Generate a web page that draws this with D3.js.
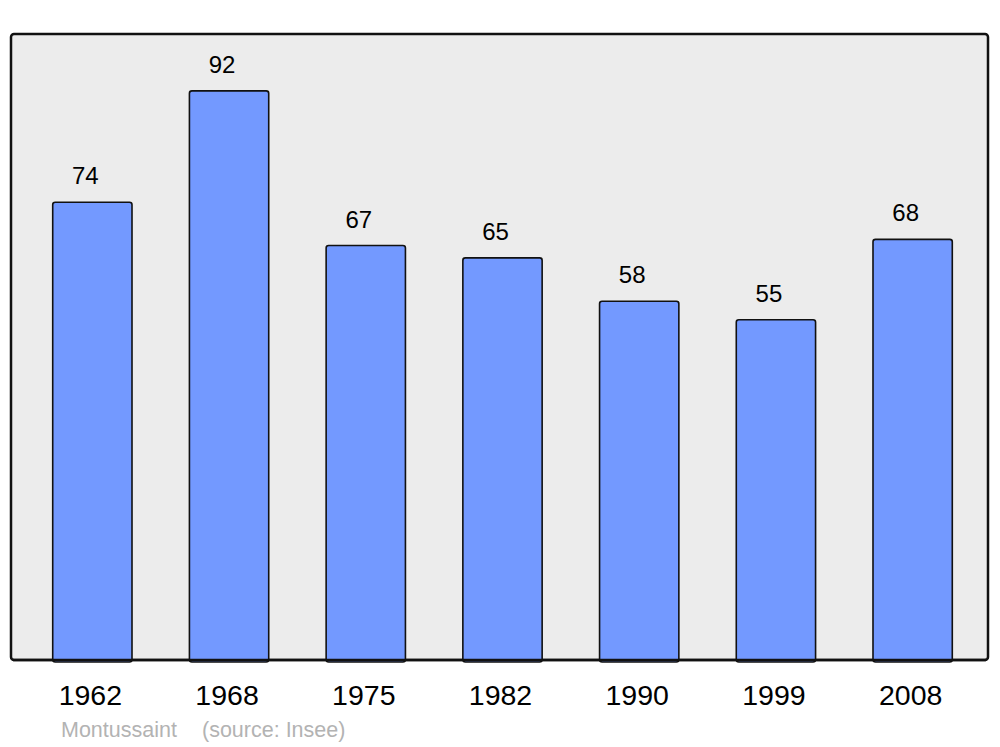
<!DOCTYPE html>
<html><head><meta charset="utf-8">
<script src="https://cdn.jsdelivr.net/npm/d3@7"></script>
<style>body{margin:0;background:#fff}svg{display:block}</style>
</head><body>
<script>
const years = ["1962","1968","1975","1982","1990","1999","2008"];
const population = [74, 92, 67, 65, 58, 55, 68];
const commune = "Montussaint";
const sourceText = "(source: Insee)";

const W = 1000, H = 747;
const svg = d3.select("body").append("svg").attr("width", W).attr("height", H);
const font = "'Liberation Sans', Arial, sans-serif";

const frame = {x0: 11, x1: 988, y0: 34, y1: 660};
svg.append("rect").attr("x", frame.x0).attr("y", frame.y0)
  .attr("width", frame.x1 - frame.x0).attr("height", frame.y1 - frame.y0)
  .attr("rx", 3).attr("fill", "#ececec").attr("stroke", "#111").attr("stroke-width", 2.5);

const x = d3.scaleBand().domain(years).range([24, 981]).paddingInner(0.42).paddingOuter(0.21);
const y = d3.scaleLinear().domain([0, d3.max(population) * 1.1]).range([frame.y1, frame.y0]);

const data = years.map((yr, i) => ({yr, v: population[i]}));

svg.append("g").selectAll("rect").data(data).join("rect")
  .attr("x", d => x(d.yr)).attr("y", d => y(d.v))
  .attr("width", x.bandwidth()).attr("height", d => y(0) - y(d.v) + 2)
  .attr("rx", 2.5).attr("fill", "#7399ff").attr("stroke", "#111").attr("stroke-width", 1.6);

svg.append("line").attr("x1", frame.x0 + 2).attr("x2", frame.x1 - 2)
  .attr("y1", frame.y1).attr("y2", frame.y1).attr("stroke", "#111").attr("stroke-width", 2.5);

svg.append("g").selectAll("text").data(data).join("text")
  .attr("x", d => x(d.yr) + x.bandwidth() / 2 - 7).attr("y", d => y(d.v) - 18)
  .attr("text-anchor", "middle").attr("font-family", font).attr("font-size", 24)
  .attr("fill", "#000").text(d => d.v);

const xAxis = d3.axisBottom(x).tickSize(0).tickPadding(0);
const gx = svg.append("g").attr("transform", `translate(-2,${frame.y1})`).call(xAxis);
gx.select(".domain").remove();
gx.selectAll("text").attr("font-family", font).attr("font-size", 28.5).attr("fill", "#000")
  .attr("dy", null).attr("y", 45);

svg.append("text").attr("x", 61).attr("y", 737).attr("font-family", font).attr("font-size", 21.5)
  .attr("fill", "#b3b3b3").text(commune);
svg.append("text").attr("x", 202).attr("y", 737).attr("font-family", font).attr("font-size", 21.5)
  .attr("fill", "#b3b3b3").text(sourceText);
</script>
</body></html>
